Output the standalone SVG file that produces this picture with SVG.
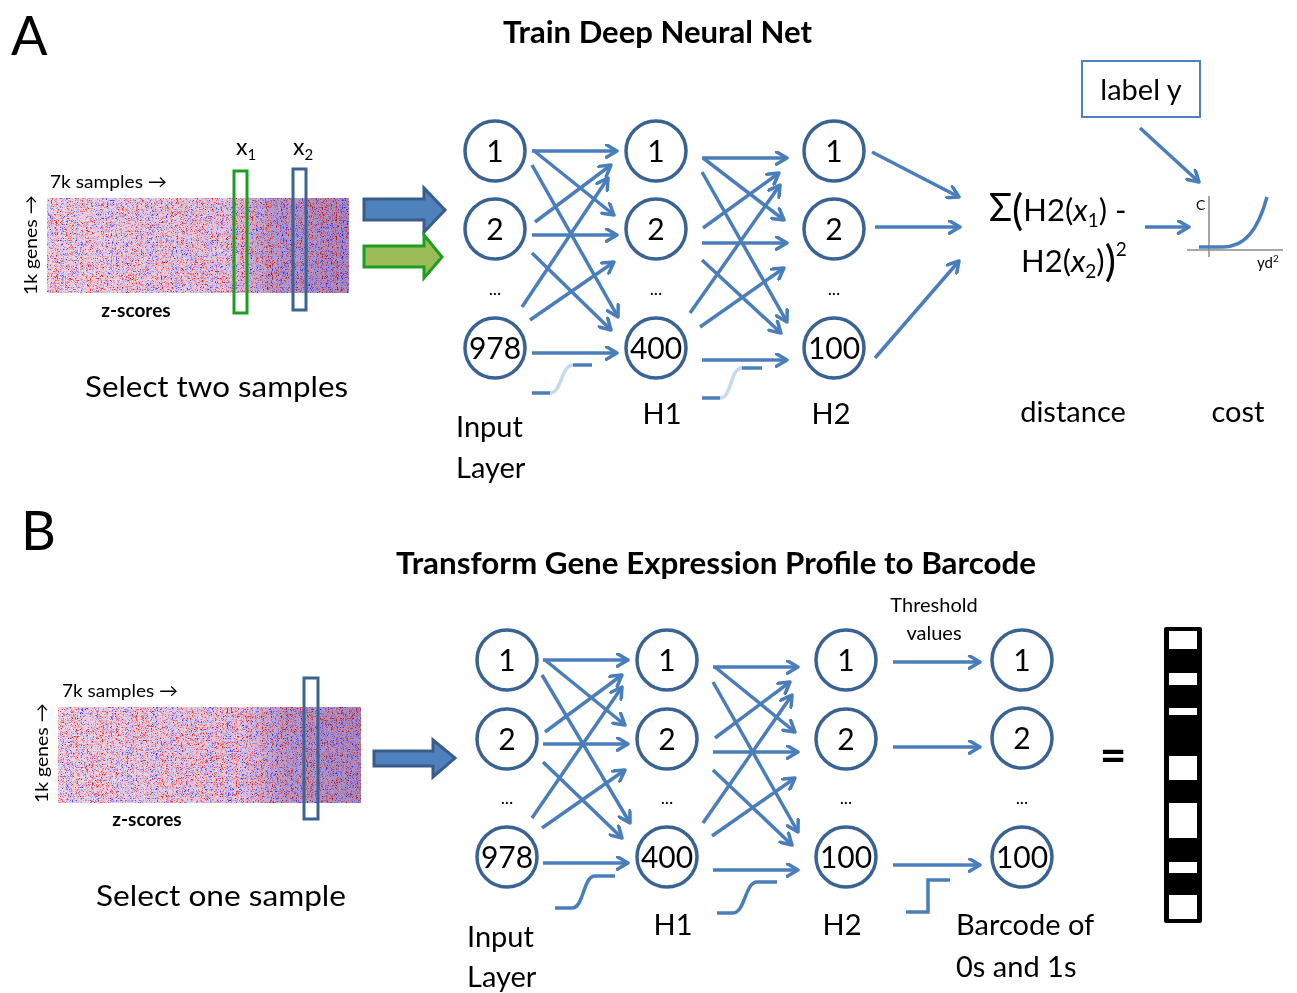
<svg xmlns="http://www.w3.org/2000/svg" width="1297" height="993" viewBox="0 0 1297 993">
<defs>
<style>
text{font-family:Lato,"Open Sans","Liberation Sans",sans-serif;fill:#000}
.nd{fill:#fff;stroke:#3a6394;stroke-width:3.5}
.nt{font-size:30px;text-anchor:middle}
.dots{font-size:18px;text-anchor:middle}
.e{stroke:#4a7ebb;stroke-width:3.5;fill:none;marker-end:url(#ah)}
.sg{stroke:#4a7ebb;stroke-width:3.5;fill:none}
.sgl{stroke:#c6d9f1;stroke-width:3.5;fill:none}
.lbl{font-size:29px}
.ttl{font-size:30px;font-weight:bold}
.big{font-size:54px}
.sm{font-size:18px}
.zs{font-size:19px;font-weight:bold;text-anchor:middle}
</style>
<marker id="ah" viewBox="0 0 12 12" refX="10" refY="6" markerWidth="15" markerHeight="15" markerUnits="userSpaceOnUse" orient="auto">
<path d="M1.5,1 L10,6 L1.5,11" fill="none" stroke="#4a7ebb" stroke-width="2.8" stroke-linecap="round" stroke-linejoin="round"/>
</marker>
<filter id="hm" x="0" y="0" width="100%" height="100%" color-interpolation-filters="sRGB">
<feTurbulence type="fractalNoise" baseFrequency="0.8 0.55" numOctaves="2" seed="4" result="a0"/>
<feColorMatrix in="a0" type="matrix" values="1 0 0 0 0 1 0 0 0 0 1 0 0 0 0 0 0 0 0 1" result="a"/>
<feTurbulence type="fractalNoise" baseFrequency="0.15 0.004" numOctaves="1" seed="9" result="b0"/>
<feColorMatrix in="b0" type="matrix" values="1 0 0 0 0 1 0 0 0 0 1 0 0 0 0 0 0 0 0 1" result="b"/>
<feTurbulence type="fractalNoise" baseFrequency="0.004 0.15" numOctaves="1" seed="2" result="c0"/>
<feColorMatrix in="c0" type="matrix" values="1 0 0 0 0 1 0 0 0 0 1 0 0 0 0 0 0 0 0 1" result="c"/>
<feComposite in="a" in2="b" operator="arithmetic" k1="0" k2="1.15" k3="0.4" k4="-0.275" result="ab"/>
<feComposite in="ab" in2="c" operator="arithmetic" k1="0" k2="0.95" k3="0.15" k4="-0.05" result="abc"/>
<feComponentTransfer in="abc">
<feFuncR type="table" tableValues="0.15 0.2 0.35 0.65 0.86 0.93 0.98 1 0.95 0.9 0.9"/>
<feFuncG type="table" tableValues="0.1 0.15 0.3 0.6 0.8 0.88 0.75 0.45 0.15 0.05 0.05"/>
<feFuncB type="table" tableValues="0.95 1 1 1 0.95 0.92 0.75 0.45 0.15 0.05 0.05"/>
<feFuncA type="linear" slope="0" intercept="1"/>
</feComponentTransfer>
</filter>
<linearGradient id="dk" x1="0" y1="0" x2="1" y2="0">
<stop offset="0" stop-color="#fff"/>
<stop offset="0.6" stop-color="#f4f0fa"/>
<stop offset="0.75" stop-color="#c8bce0"/>
<stop offset="1" stop-color="#b8a8d8"/>
</linearGradient>
</defs>
<rect width="1297" height="993" fill="#fff"/>

<!-- Panel A -->
<g id="panelA-labels">
<text class="big" x="11" y="55">A</text>
<text class="ttl" x="503" y="43" textLength="309" lengthAdjust="spacingAndGlyphs">Train Deep Neural Net</text>
</g>

<g id="heatmapA">
<rect x="47" y="198" width="302" height="95" filter="url(#hm)"/>
<rect x="47" y="198" width="302" height="95" fill="url(#dk)" style="mix-blend-mode:multiply"/>
<text class="sm" x="50" y="188" textLength="117" lengthAdjust="spacingAndGlyphs">7k samples →</text>
<text class="sm" transform="translate(37,295) rotate(-90)" textLength="100" lengthAdjust="spacingAndGlyphs">1k genes →</text>
<text class="zs" x="136" y="317">z-scores</text>
<rect x="234" y="171" width="13" height="142" fill="none" stroke="#1e9e1e" stroke-width="3"/>
<rect x="293" y="169" width="13" height="141" fill="none" stroke="#3a6394" stroke-width="3"/>
<text x="236" y="155" font-size="23">x<tspan font-size="15" dy="5">1</tspan></text>
<text x="293" y="155" font-size="23">x<tspan font-size="15" dy="5">2</tspan></text>
<text class="lbl" x="85" y="397" textLength="263" lengthAdjust="spacingAndGlyphs">Select two samples</text>
</g>

<g id="arrowsA">
<polygon points="364,199 424,199 424,188 445,210 424,232 424,220 364,220" fill="#4f81bd" stroke="#385d8a" stroke-width="3" stroke-linejoin="miter"/>
<polygon points="364,246 424,246 424,235 442,257 424,278 424,267 364,267" fill="#9bbb59" stroke="#1e9e1e" stroke-width="3"/>
</g>

<g id="connectorsA">
<line class="e" x1="532" y1="151" x2="617" y2="151"/>
<line class="e" x1="533" y1="150" x2="614" y2="215"/>
<line class="e" x1="532" y1="165" x2="618" y2="317"/>
<line class="e" x1="535" y1="222" x2="611" y2="165"/>
<line class="e" x1="532" y1="235" x2="617" y2="235"/>
<line class="e" x1="532" y1="253" x2="611" y2="330"/>
<line class="e" x1="522" y1="307" x2="608" y2="178"/>
<line class="e" x1="530" y1="320" x2="614" y2="262"/>
<line class="e" x1="532" y1="353" x2="617" y2="353"/>

<line class="e" x1="702" y1="158" x2="787" y2="158"/>
<line class="e" x1="703" y1="158" x2="784" y2="220"/>
<line class="e" x1="702" y1="172" x2="787" y2="322"/>
<line class="e" x1="703" y1="228" x2="779" y2="173"/>
<line class="e" x1="702" y1="243" x2="787" y2="243"/>
<line class="e" x1="702" y1="260" x2="781" y2="333"/>
<line class="e" x1="690" y1="313" x2="780" y2="185"/>
<line class="e" x1="700" y1="327" x2="784" y2="268"/>
<line class="e" x1="702" y1="360" x2="787" y2="360"/>

<line class="e" x1="872" y1="152" x2="959" y2="197"/>
<line class="e" x1="875" y1="227" x2="960" y2="227"/>
<line class="e" x1="875" y1="358" x2="959" y2="261"/>

<line class="e" x1="1145" y1="227" x2="1189" y2="227"/>
<line class="e" x1="1140" y1="128" x2="1199" y2="182"/>

<path class="sg" d="M532,393 H550"/>
<path class="sgl" d="M550,393 C562,393 561,365 573,365"/>
<path class="sg" d="M573,365 H592"/>
<path class="sg" d="M702,398 H720"/>
<path class="sgl" d="M720,398 C732,398 730,368 742,368"/>
<path class="sg" d="M742,368 H762"/>
</g>

<g id="A-in-1"><circle class="nd" cx="495" cy="151" r="30"/><text class="nt" x="495" y="162">1</text></g>
<g id="A-in-2"><circle class="nd" cx="495" cy="229" r="30"/><text class="nt" x="495" y="240">2</text></g>
<g id="A-in-978"><circle class="nd" cx="495" cy="348" r="30"/><text class="nt" x="495" y="359">978</text></g>
<g id="A-h1-1"><circle class="nd" cx="656" cy="151" r="30"/><text class="nt" x="656" y="162">1</text></g>
<g id="A-h1-2"><circle class="nd" cx="656" cy="229" r="30"/><text class="nt" x="656" y="240">2</text></g>
<g id="A-h1-400"><circle class="nd" cx="656" cy="348" r="30"/><text class="nt" x="656" y="359">400</text></g>
<g id="A-h2-1"><circle class="nd" cx="834" cy="151" r="30"/><text class="nt" x="834" y="162">1</text></g>
<g id="A-h2-2"><circle class="nd" cx="834" cy="229" r="30"/><text class="nt" x="834" y="240">2</text></g>
<g id="A-h2-100"><circle class="nd" cx="834" cy="348" r="30"/><text class="nt" x="834" y="359">100</text></g>
<g id="A-dots">
<text class="dots" x="495" y="295">...</text>
<text class="dots" x="656" y="295">...</text>
<text class="dots" x="834" y="295">...</text>
</g>
<g id="A-layer-labels">
<text class="lbl" x="456" y="437">Input</text>
<text class="lbl" x="456" y="478">Layer</text>
<text class="lbl" x="662" y="424" text-anchor="middle">H1</text>
<text class="lbl" x="831" y="424" text-anchor="middle">H2</text>
<text class="lbl" x="1073" y="422" text-anchor="middle">distance</text>
<text class="lbl" x="1238" y="422" text-anchor="middle">cost</text>
</g>

<g id="distance">
<text x="989" y="221" font-size="31"><tspan font-size="38">Σ</tspan><tspan font-size="42" dy="4">(</tspan><tspan dy="-4">H2(</tspan><tspan font-style="italic">x</tspan><tspan font-size="19" dy="6">1</tspan><tspan dy="-6">) -</tspan></text>
<text x="1021" y="272" font-size="31">H2(<tspan font-style="italic">x</tspan><tspan font-size="19" dy="6">2</tspan><tspan dy="-6">)</tspan><tspan font-size="42" dy="4">)</tspan><tspan font-size="19" dy="-20">2</tspan></text>
</g>

<g id="labelY">
<rect x="1082" y="61" width="118" height="56" fill="#fff" stroke="#4f81bd" stroke-width="2"/>
<text class="lbl" x="1141" y="100" text-anchor="middle">label y</text>
</g>

<g id="costPlot">
<line x1="1209" y1="196" x2="1209" y2="257" stroke="#8a8a8a" stroke-width="1.5"/>
<line x1="1187" y1="250" x2="1283" y2="250" stroke="#8a8a8a" stroke-width="1.5"/>
<text x="1196" y="210" font-size="14">C</text>
<text x="1257" y="268" font-size="15">yd<tspan font-size="10" dy="-6">2</tspan></text>
<path d="M1199,247 H1222 C1245,247 1258,230 1267,197" fill="none" stroke="#4a7ebb" stroke-width="3.5"/>
</g>

<!-- Panel B -->
<g id="panelB-labels">
<text class="big" x="21" y="550">B</text>
<text class="ttl" x="396" y="574" textLength="640" lengthAdjust="spacingAndGlyphs">Transform Gene Expression Profile to Barcode</text>
</g>

<g id="heatmapB">
<rect x="58" y="707" width="303" height="96" filter="url(#hm)"/>
<rect x="58" y="707" width="303" height="96" fill="url(#dk)" style="mix-blend-mode:multiply"/>
<text class="sm" x="62" y="697" textLength="116" lengthAdjust="spacingAndGlyphs">7k samples →</text>
<text class="sm" transform="translate(48,803) rotate(-90)" textLength="100" lengthAdjust="spacingAndGlyphs">1k genes →</text>
<text class="zs" x="147" y="826">z-scores</text>
<rect x="304" y="678" width="14" height="141" fill="none" stroke="#3a6394" stroke-width="3"/>
<text class="lbl" x="96" y="906" textLength="250" lengthAdjust="spacingAndGlyphs">Select one sample</text>
</g>

<g id="arrowB">
<polygon points="374,751 433,751 433,740 455,758 433,777 433,766 374,766" fill="#4f81bd" stroke="#385d8a" stroke-width="3"/>
</g>

<g id="connectorsB">
<line class="e" x1="543" y1="660" x2="628" y2="660"/>
<line class="e" x1="545" y1="660" x2="625" y2="725"/>
<line class="e" x1="542" y1="675" x2="630" y2="823"/>
<line class="e" x1="545" y1="732" x2="622" y2="675"/>
<line class="e" x1="543" y1="744" x2="628" y2="744"/>
<line class="e" x1="543" y1="762" x2="622" y2="838"/>
<line class="e" x1="532" y1="818" x2="622" y2="687"/>
<line class="e" x1="542" y1="828" x2="625" y2="770"/>
<line class="e" x1="543" y1="863" x2="628" y2="863"/>

<line class="e" x1="713" y1="667" x2="798" y2="667"/>
<line class="e" x1="715" y1="667" x2="795" y2="732"/>
<line class="e" x1="713" y1="682" x2="798" y2="832"/>
<line class="e" x1="715" y1="738" x2="790" y2="682"/>
<line class="e" x1="713" y1="752" x2="798" y2="752"/>
<line class="e" x1="713" y1="770" x2="792" y2="845"/>
<line class="e" x1="703" y1="823" x2="792" y2="695"/>
<line class="e" x1="712" y1="836" x2="795" y2="778"/>
<line class="e" x1="713" y1="870" x2="798" y2="870"/>

<line class="e" x1="893" y1="662" x2="980" y2="662"/>
<line class="e" x1="893" y1="747" x2="980" y2="747"/>
<line class="e" x1="893" y1="865" x2="980" y2="865"/>

<path class="sg" d="M555,908 H572 C584,908 583,876 595,876 H615"/>
<path class="sg" d="M717,913 H733 C745,913 745,882 757,882 H777"/>
<path class="sg" d="M906,912 H928 V880 H950"/>
</g>

<g id="B-in-1"><circle class="nd" cx="507" cy="660" r="30"/><text class="nt" x="507" y="671">1</text></g>
<g id="B-in-2"><circle class="nd" cx="507" cy="739" r="30"/><text class="nt" x="507" y="750">2</text></g>
<g id="B-in-978"><circle class="nd" cx="507" cy="857" r="30"/><text class="nt" x="507" y="868">978</text></g>
<g id="B-h1-1"><circle class="nd" cx="667" cy="660" r="30"/><text class="nt" x="667" y="671">1</text></g>
<g id="B-h1-2"><circle class="nd" cx="667" cy="739" r="30"/><text class="nt" x="667" y="750">2</text></g>
<g id="B-h1-400"><circle class="nd" cx="667" cy="857" r="30"/><text class="nt" x="667" y="868">400</text></g>
<g id="B-h2-1"><circle class="nd" cx="846" cy="660" r="30"/><text class="nt" x="846" y="671">1</text></g>
<g id="B-h2-2"><circle class="nd" cx="846" cy="739" r="30"/><text class="nt" x="846" y="750">2</text></g>
<g id="B-h2-100"><circle class="nd" cx="846" cy="857" r="30"/><text class="nt" x="846" y="868">100</text></g>
<g id="B-out-1"><circle class="nd" cx="1022" cy="660" r="30"/><text class="nt" x="1022" y="671">1</text></g>
<g id="B-out-2"><circle class="nd" cx="1022" cy="738" r="30"/><text class="nt" x="1022" y="749">2</text></g>
<g id="B-out-100"><circle class="nd" cx="1022" cy="857" r="30"/><text class="nt" x="1022" y="868">100</text></g>
<g id="B-dots">
<text class="dots" x="507" y="804">...</text>
<text class="dots" x="667" y="804">...</text>
<text class="dots" x="846" y="804">...</text>
<text class="dots" x="1022" y="804">...</text>
</g>
<g id="B-layer-labels">
<text x="934" y="612" font-size="20" text-anchor="middle">Threshold</text>
<text x="934" y="640" font-size="20" text-anchor="middle">values</text>
<text class="lbl" x="467" y="947">Input</text>
<text class="lbl" x="467" y="987">Layer</text>
<text class="lbl" x="673" y="935" text-anchor="middle">H1</text>
<text class="lbl" x="842" y="935" text-anchor="middle">H2</text>
<text class="lbl" x="956" y="935">Barcode of</text>
<text class="lbl" x="956" y="977">0s and 1s</text>
<text x="1113" y="771" font-size="46" font-weight="bold" text-anchor="middle">=</text>
</g>

<g id="barcode">
<rect x="1164" y="627" width="38" height="296" rx="2" fill="#000"/>
<rect x="1169" y="631" width="28" height="18" fill="#fff"/>
<rect x="1169" y="673" width="28" height="12" fill="#fff"/>
<rect x="1169" y="708" width="28" height="7" fill="#fff"/>
<rect x="1169" y="756" width="28" height="24" fill="#fff"/>
<rect x="1169" y="803" width="28" height="35" fill="#fff"/>
<rect x="1169" y="862" width="28" height="11" fill="#fff"/>
<rect x="1169" y="895" width="28" height="24" fill="#fff"/>
</g>
</svg>
